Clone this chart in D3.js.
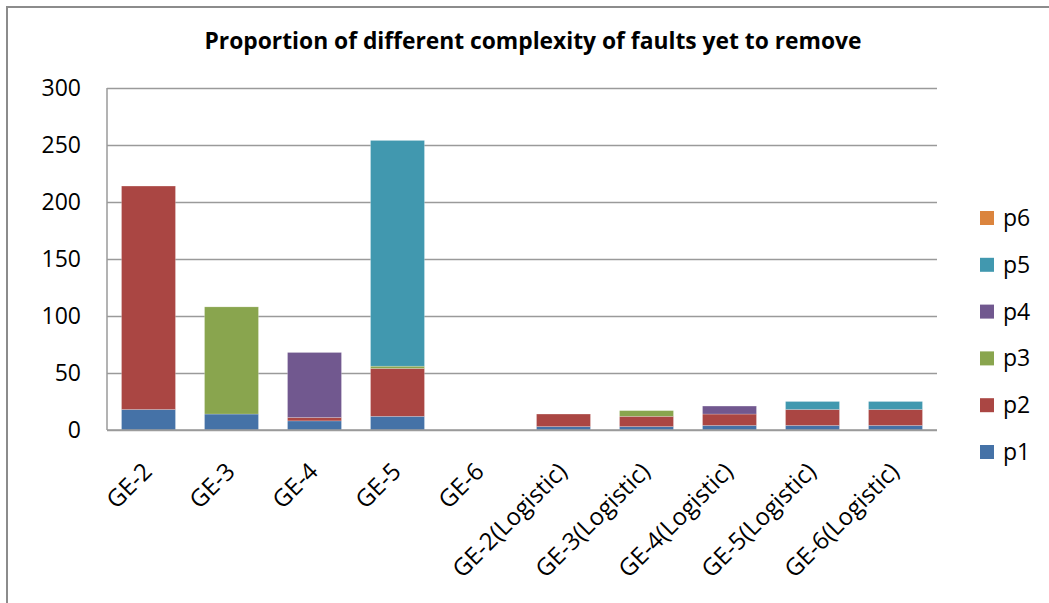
<!DOCTYPE html>
<html lang="en">
<head>
<meta charset="UTF-8">
<title>Faults yet to remove</title>
<script src="https://d3js.org/d3.v7.min.js"></script>
<style>
  body { margin: 0; background: #fff; }
  svg { display: block; font-family: "Open Sans", sans-serif; }
</style>
</head>
<body>
<script>
// categories and series
const categories = ["GE-2", "GE-3", "GE-4", "GE-5", "GE-6",
  "GE-2(Logistic)", "GE-3(Logistic)", "GE-4(Logistic)", "GE-5(Logistic)", "GE-6(Logistic)"];
const p1 = [18, 14, 8, 12, 0, 3, 3, 4, 4, 4];
const p2 = [196, 0, 3, 42, 0, 11, 9, 10, 14, 14];
const p3 = [0, 94, 0, 2, 0, 0, 5, 0, 0, 0];
const p4 = [0, 0, 57, 0, 0, 0, 0, 7, 0, 0];
const p5 = [0, 0, 0, 198, 0, 0, 0, 0, 7, 7];
const p6 = [0, 0, 0, 0, 0, 0, 0, 0, 0, 0];
const seriesNames = ["p1", "p2", "p3", "p4", "p5", "p6"];
const yTicks = [0, 50, 100, 150, 200, 250, 300];

const colors = {p1: "#4572A7", p2: "#AA4643", p3: "#89A54E", p4: "#71588F", p5: "#4198AF", p6: "#DB843D"};

const W = 1049, H = 603;
const svg = d3.select("body").append("svg").attr("width", W).attr("height", H);

// outer chart frame
svg.append("rect").attr("x", 7).attr("y", 7).attr("width", W + 10).attr("height", H + 10)
  .attr("fill", "none").attr("stroke", "#8c8c8c").attr("stroke-width", 2);

// title
svg.append("text").attr("x", 533).attr("y", 49).attr("text-anchor", "middle")
  .style("font-size", "22.8px").style("font-weight", "bold").attr("fill", "#000")
  .text("Proportion of different complexity of faults yet to remove");

const x = d3.scaleBand().domain(categories).range([107, 937]).paddingInner(0.35).paddingOuter(0.175);
const y = d3.scaleLinear().domain([0, 300]).range([430, 88]);

// gridlines + y labels
const yAxis = d3.axisLeft(y).tickValues(yTicks).tickSize(-(937 - 107)).tickPadding(26);
const gy = svg.append("g").attr("transform", "translate(107,0)").call(yAxis);
gy.select(".domain").remove();
gy.selectAll(".tick line").attr("stroke", "#9a9a9a").attr("stroke-width", 1.5);
gy.selectAll(".tick text").style("font-size", "23px").style("font-family", "Open Sans").attr("fill", "#000");

// stacked bars
const table = categories.map((c, i) => ({cat: c, p1: p1[i], p2: p2[i], p3: p3[i], p4: p4[i], p5: p5[i], p6: p6[i]}));
const stack = d3.stack().keys(seriesNames)(table);

svg.append("g").selectAll("g").data(stack).join("g")
  .attr("fill", d => colors[d.key])
  .selectAll("rect").data(d => d).join("rect")
  .attr("x", d => x(d.data.cat))
  .attr("width", x.bandwidth())
  .attr("y", d => y(d[1]))
  .attr("height", d => y(d[0]) - y(d[1]))
  .attr("stroke", "#fff").attr("stroke-opacity", 0.35).attr("stroke-width", 0.6);

// axis lines
svg.append("line").attr("x1", 107).attr("x2", 107).attr("y1", 88).attr("y2", 430)
  .attr("stroke", "#9a9a9a").attr("stroke-width", 1.5);
svg.append("line").attr("x1", 107).attr("x2", 937).attr("y1", 430).attr("y2", 430)
  .attr("stroke", "#9a9a9a").attr("stroke-width", 1.5);

// x labels
svg.append("g").selectAll("text").data(categories).join("text")
  .attr("transform", d => `translate(${x(d) + x.bandwidth() / 2 - 1},467) rotate(-45)`)
  .attr("text-anchor", "end").attr("dy", "0.35em")
  .style("font-size", "24px").attr("fill", "#000")
  .text(d => d);

// legend (p6 on top)
const legend = svg.append("g").selectAll("g").data(seriesNames.slice().reverse()).join("g")
  .attr("transform", (d, i) => `translate(980,${218 + i * 46.8})`);
legend.append("rect").attr("x", 0).attr("y", -7).attr("width", 14).attr("height", 14)
  .attr("fill", d => colors[d]);
legend.append("text").attr("x", 23).attr("dy", "0.35em")
  .style("font-size", "23px").attr("fill", "#000").text(d => d);
</script>
</body>
</html>
